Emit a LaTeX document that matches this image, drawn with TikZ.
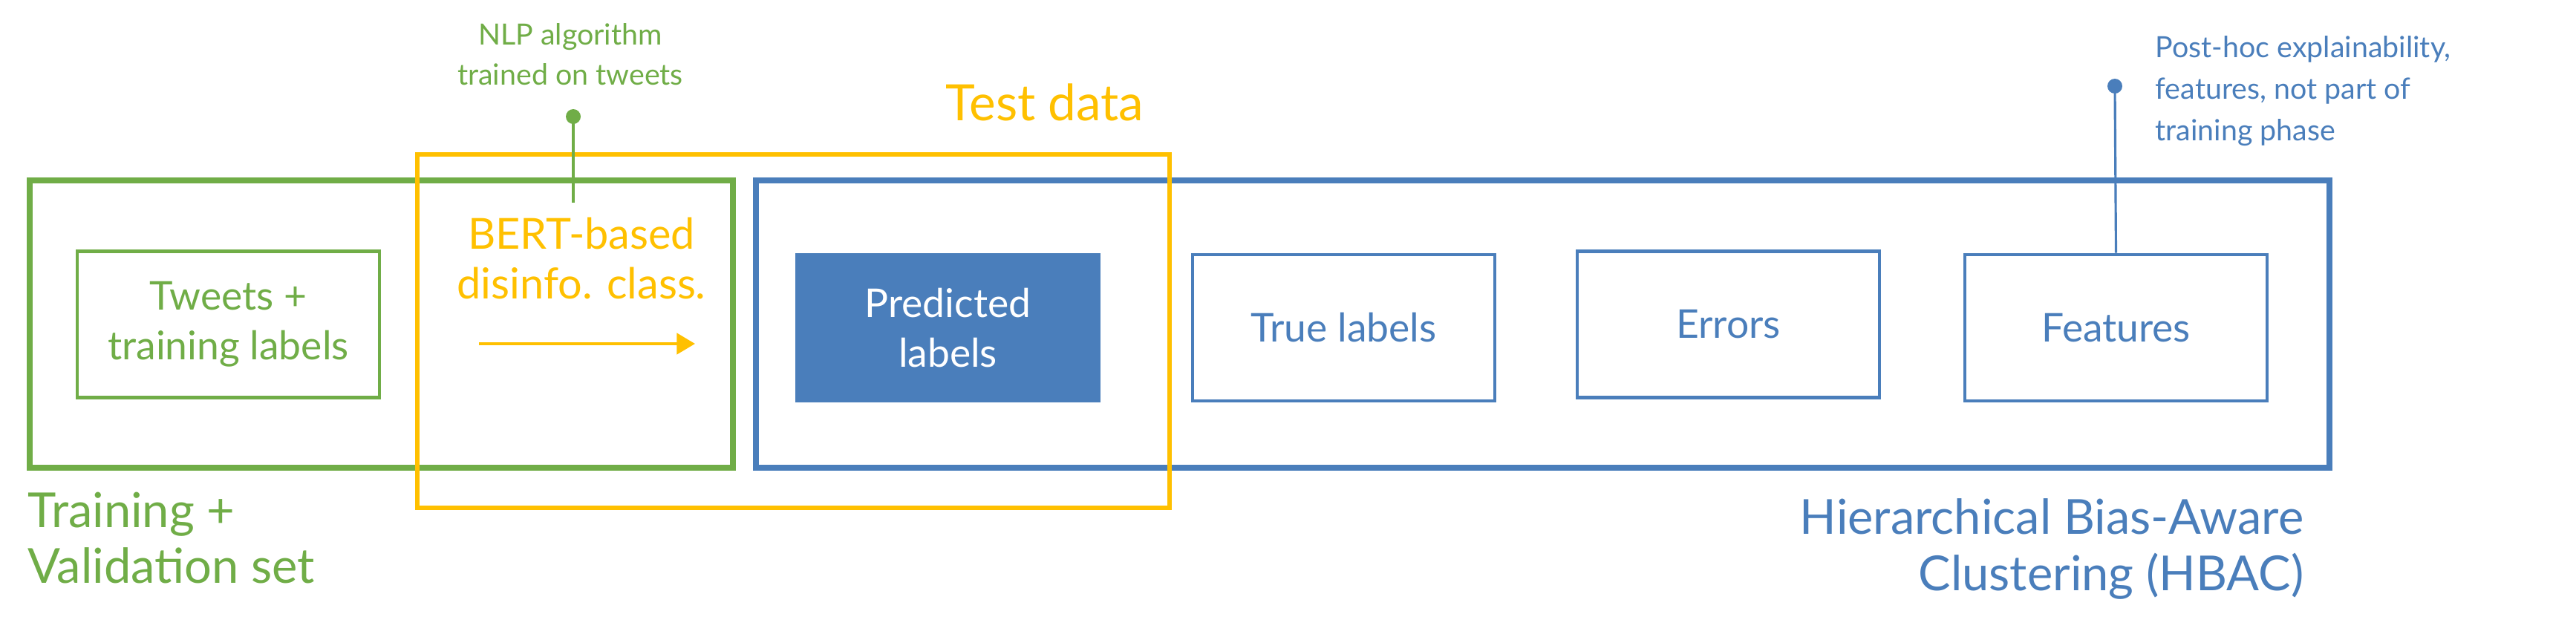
\documentclass[tikz,border=0pt]{standalone}
\usepackage{fontspec}
\setmainfont{Lato}
\usepackage{tikz}
\usetikzlibrary{arrows.meta,positioning}
\definecolor{trgreen}{HTML}{70AD47}
\definecolor{tsyellow}{HTML}{FFC000}
\definecolor{hbblue}{HTML}{4A7EBB}

\begin{document}
\begin{tikzpicture}[
  group/.style={rectangle, draw, line width=2.2pt, inner sep=0pt},
  item/.style={rectangle, draw=hbblue, line width=1.4pt, text=hbblue,
               minimum width=4.07cm, minimum height=1.97cm, font=\fontsize{15.2}{19}\selectfont},
  caption/.style={font=\fontsize{18.5}{21.5}\selectfont, align=left, inner sep=0pt},
  note/.style={font=\fontsize{11.2}{15.5}\selectfont, inner sep=0pt},
  pin/.style={line width=0.9pt},
]
  \useasboundingbox (0,0) rectangle (34.69,-8.57);

  % the three data groups
  \node[group, draw=trgreen, minimum width=9.47cm, minimum height=3.87cm] (train) at (5.135,-4.365) {};
  \node[group, draw=hbblue, minimum width=21.19cm, minimum height=3.87cm] (hbac) at (20.775,-4.365) {};
  \node[group, draw=tsyellow, line width=1.8pt, minimum width=10.13cm, minimum height=4.76cm] (test) at (10.685,-4.46) {};

  % boxes inside
  \node[item, draw=trgreen, text=trgreen, align=center] (tweets) at (3.075,-4.37) {Tweets +\\training labels};
  \node[item, fill=hbblue, text=white, align=center] (pred) at (12.765,-4.415) {Predicted\\labels};
  \node[item] (true) at (18.095,-4.415) {True labels};
  \node[item] (err) at (23.275,-4.37) {Errors};
  \node[item] (feat) at (28.495,-4.415) {Features};

  % classifier
  \node[note, font=\fontsize{16.4}{19}\selectfont, text=tsyellow, align=center] (bert) at (7.83,-3.48) {BERT-based\\disinfo. class.};
  \coordinate (clsin) at (6.45,-4.63);
  \coordinate (clsout) at (9.36,-4.63);
  \draw[-{Triangle[length=7pt,width=8pt]}, tsyellow, line width=1.2pt] (clsin) -- (clsout);

  % group captions
  \node[caption, text=trgreen, anchor=north west] (trainlbl) at (0.37,-6.62) {Training +\\Validation set};
  \node[caption, text=hbblue, align=right, anchor=north east] (hbaclbl) at (31.03,-6.71) {Hierarchical Bias-Aware\\Clustering (HBAC)};
  \node[caption, font=\fontsize{19.2}{22}\selectfont, text=tsyellow] (testlbl) at (14.07,-1.38) {Test data};

  % annotations
  \node[note, text=trgreen, align=center] (nlp) at (7.68,-0.73) {NLP algorithm\\trained on tweets};
  \fill[trgreen] (7.72,-1.57) coordinate (nlpdot) circle (0.1);
  \coordinate (nlpend) at (7.72,-2.73);
  \draw[pin, trgreen] (nlpdot) -- (nlpend);

  \node[note, text=hbblue, align=left, anchor=north west, font=\fontsize{11.2}{15.9}\selectfont] (posthoc) at (29.02,-0.48) {Post-hoc explainability,\\features, not part of\\training phase};
  \fill[hbblue] (28.48,-1.16) coordinate (featdot) circle (0.1);
  \draw[pin, hbblue] (featdot) -- (feat.north);
\end{tikzpicture}
\end{document}
